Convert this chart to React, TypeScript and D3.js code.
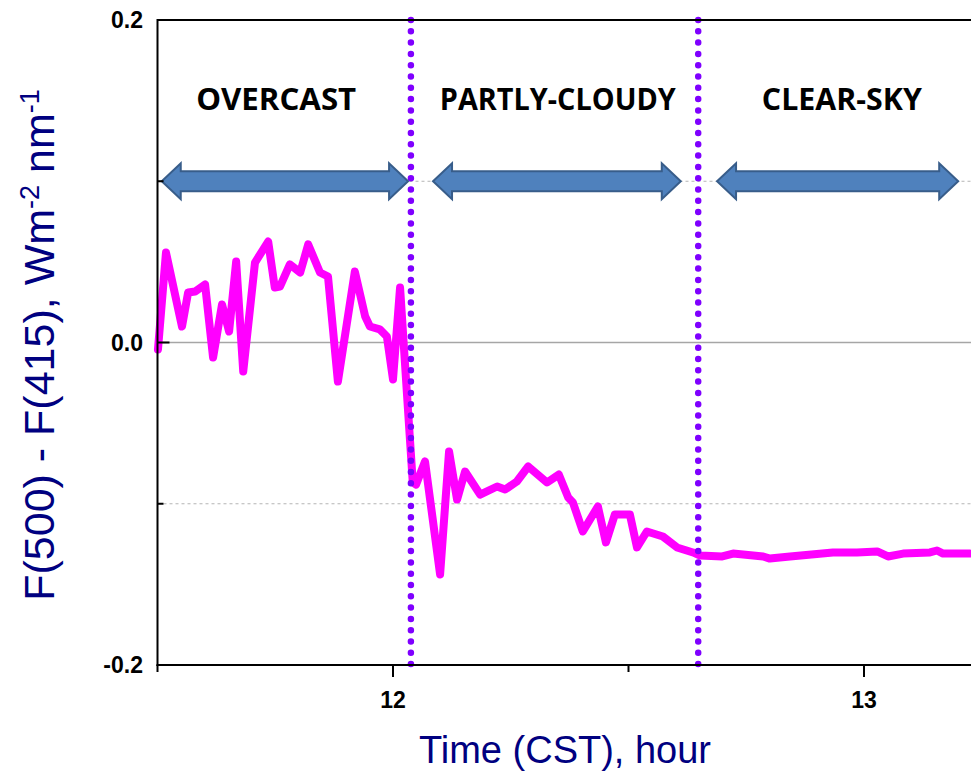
import React from "react";
import * as d3 from "d3";

// Time of day (CST, decimal hours) and the F(500) - F(415) difference (W m^-2 nm^-1)
const times = [
  11.501, 11.518, 11.552, 11.565, 11.580, 11.601, 11.618, 11.637, 11.652, 11.667,
  11.682, 11.707, 11.735, 11.749, 11.760, 11.781, 11.803, 11.820, 11.845, 11.862,
  11.883, 11.919, 11.941, 11.951, 11.972, 11.987, 12.000, 12.015, 12.030, 12.042,
  12.049, 12.068, 12.100, 12.119, 12.136, 12.153, 12.185, 12.221, 12.238, 12.263,
  12.287, 12.327, 12.352, 12.372, 12.382, 12.403, 12.435, 12.452, 12.471, 12.503,
  12.518, 12.539, 12.573, 12.603, 12.637, 12.652, 12.699, 12.722, 12.786, 12.800,
  12.843, 12.934, 12.985, 13.028, 13.051, 13.083, 13.140, 13.155, 13.168, 13.225,
];
const diffValues = [
  -0.0043, 0.0558, 0.0099, 0.0310, 0.0316, 0.0360, -0.0093, 0.0236, 0.0068, 0.0502,
  -0.0180, 0.0496, 0.0626, 0.0341, 0.0347, 0.0484, 0.0434, 0.0608, 0.0434, 0.0409,
  -0.0242, 0.0440, 0.0161, 0.0099, 0.0081, 0.0037, -0.0229, 0.0341, -0.0335, -0.0868,
  -0.0881, -0.0738, -0.1439, -0.0676, -0.0974, -0.0800, -0.0943, -0.0893, -0.0912, -0.0862,
  -0.0769, -0.0868, -0.0819, -0.0961, -0.0992, -0.1172, -0.1017, -0.1240, -0.1067, -0.1067,
  -0.1271, -0.1172, -0.1203, -0.1271, -0.1302, -0.1321, -0.1327, -0.1309, -0.1327, -0.1340,
  -0.1327, -0.1302, -0.1302, -0.1296, -0.1327, -0.1309, -0.1302, -0.1290, -0.1309, -0.1309,
];

// Sky-condition periods and the times separating them
const skyLabels = ["OVERCAST", "PARTLY-CLOUDY", "CLEAR-SKY"];
const skyLabelCenters = [11.752, 12.35, 12.953];
const skyLabelWidths = [160, 236, 160];
const arrowStarts = [11.509, 12.085, 12.688];
const arrowEnds = [12.032, 12.611, 13.2];
const boundaryTimes = [12.038, 12.648];

const yMajorTicks = [0.2, 0.0, -0.2];
const yMinorTicks = [0.1, -0.1];
const yTickLabels = ["0.2", "0.0", "-0.2"];
const xMajorTicks = [12, 13];
const xMinorTicks = [11.5, 12.5];
const xTickLabels = ["12", "13"];

const W = 971;
const H = 771;
const left = 157.5;
const top = 20;
const bottom = 665;

export default function App() {
  const x = d3.scaleLinear().domain([11.5, 13.5]).range([left, left + 942]);
  const y = d3.scaleLinear().domain([-0.2, 0.2]).range([bottom, top]);

  const pts: [number, number][] = times.map((t, i) => [t, diffValues[i]]);
  const line = d3
    .line<[number, number]>()
    .x((d) => x(d[0]))
    .y((d) => y(d[1]))
    .curve(d3.curveLinear);

  const arrowPath = (x0: number, x1: number, cy: number) => {
    const head = 19;
    const hh = 18;
    const sh = 10;
    return [
      [x0, cy],
      [x0 + head, cy - hh],
      [x0 + head, cy - sh],
      [x1 - head, cy - sh],
      [x1 - head, cy - hh],
      [x1, cy],
      [x1 - head, cy + hh],
      [x1 - head, cy + sh],
      [x0 + head, cy + sh],
      [x0 + head, cy + hh],
    ]
      .map((p, i) => `${i ? "L" : "M"}${p[0]},${p[1]}`)
      .join("") + "Z";
  };

  const font = "'Liberation Sans', Arial, sans-serif";

  return (
    <div style={{ position: "absolute", left: 0, top: 0 }}>
      <svg width={W} height={H} style={{ display: "block", background: "#fff" }}>
        {/* horizontal reference lines */}
        {yMinorTicks.map((v) => (
          <line key={v} x1={left} x2={W} y1={y(v)} y2={y(v)} stroke="#b4b4b4" strokeWidth={1} strokeDasharray="3 3" />
        ))}
        <line x1={left} x2={W} y1={y(0)} y2={y(0)} stroke="#a6a6a6" strokeWidth={1.5} />

        {/* data line */}
        <path d={line(pts) ?? ""} fill="none" stroke="#ff00ff" strokeWidth={8} strokeLinejoin="round" strokeLinecap="round" />

        {/* sky condition boundaries */}
        {boundaryTimes.map((t) => (
          <line key={t} x1={x(t)} x2={x(t)} y1={top} y2={bottom} stroke="#7f00ff" strokeWidth={6.5} strokeLinecap="round" strokeDasharray="0 11.3" />
        ))}

        {/* period arrows */}
        {arrowStarts.map((s, i) => (
          <path key={i} d={arrowPath(x(s), x(arrowEnds[i]), y(0.1))} fill="#4f81bd" stroke="#385d8a" strokeWidth={2} strokeLinejoin="miter" />
        ))}

        {skyLabels.map((s, i) => (
          <text
            key={s}
            x={x(skyLabelCenters[i])}
            y={110}
            textAnchor="middle"
            fontFamily="'Open Sans', sans-serif"
            fontWeight={700}
            fontSize={31}
            textLength={skyLabelWidths[i]}
            lengthAdjust="spacingAndGlyphs"
            fill="#000"
          >
            {s}
          </text>
        ))}

        {/* frame and axes */}
        <line x1={left} x2={W} y1={top} y2={top} stroke="#000" strokeWidth={2} />
        <line x1={left} x2={left} y1={top - 1} y2={bottom + 1} stroke="#000" strokeWidth={2} />
        <line x1={left - 1} x2={W} y1={bottom} y2={bottom} stroke="#000" strokeWidth={2} />

        {yMajorTicks.map((v) => (
          <line key={v} x1={left} x2={left + 12} y1={y(v)} y2={y(v)} stroke="#000" strokeWidth={2} />
        ))}
        {yMinorTicks.map((v) => (
          <line key={v} x1={left} x2={left + 6} y1={y(v)} y2={y(v)} stroke="#000" strokeWidth={2} />
        ))}
        {yMajorTicks.map((v, i) => (
          <text key={v} x={143} y={y(v)} dy="0.35em" textAnchor="end" fontFamily={font} fontWeight={700} fontSize={23} fill="#000">
            {yTickLabels[i]}
          </text>
        ))}

        {xMajorTicks.map((v) => (
          <line key={v} x1={x(v)} x2={x(v)} y1={bottom} y2={bottom + 12} stroke="#000" strokeWidth={2} />
        ))}
        {xMinorTicks.map((v) => (
          <line key={v} x1={x(v)} x2={x(v)} y1={bottom} y2={bottom + 7} stroke="#000" strokeWidth={2} />
        ))}
        {xMajorTicks.map((v, i) => (
          <text key={v} x={x(v)} y={700} dy="0.35em" textAnchor="middle" fontFamily={font} fontWeight={700} fontSize={23} fill="#000">
            {xTickLabels[i]}
          </text>
        ))}

        {/* axis titles */}
        <text x={565} y={763} textAnchor="middle" fontFamily={font} fontSize={38} fill="#000080">
          Time (CST), hour
        </text>
        <text transform="translate(54,345) rotate(-90)" textAnchor="middle" fontFamily={font} fontSize={43} fill="#000080">
          F(500) - F(415), Wm
          <tspan dy="-15" fontSize={27}>-2</tspan>
          <tspan dy="15"> nm</tspan>
          <tspan dy="-15" fontSize={27}>-1</tspan>
        </text>
      </svg>
    </div>
  );
}
